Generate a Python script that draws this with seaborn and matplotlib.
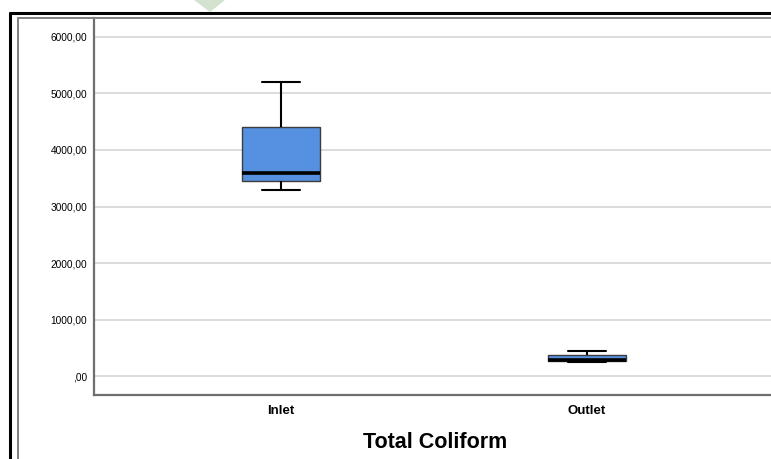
import numpy as np
import pandas as pd
import seaborn as sns
import matplotlib
matplotlib.use("Agg")
import matplotlib.pyplot as plt
from matplotlib.lines import Line2D
from matplotlib.patches import Polygon

# ---- data (five-number summaries) ----
categories = ["Inlet", "Outlet"]
inlet_values = [3300, 3450, 3600, 4400, 5200]
outlet_values = [245, 265, 285, 372, 450]
y_ticks = [0, 1000, 2000, 3000, 4000, 5000, 6000]
y_tick_labels = [",00", "1000,00", "2000,00", "3000,00", "4000,00", "5000,00", "6000,00"]
title_text = "Total Coliform"

df = pd.DataFrame({
    "site": [categories[0]] * len(inlet_values) + [categories[1]] * len(outlet_values),
    "value": inlet_values + outlet_values,
})

sns.set_theme(style="white")
plt.rcParams["font.family"] = ["Liberation Sans", "DejaVu Sans"]

W, H = 771, 459
fig = plt.figure(figsize=(W / 100, H / 100), dpi=100)

def fx(x):
    return x / W

def fy(y):
    return 1 - y / H

ax_left, ax_right, ax_top, ax_bottom = 94, 771, 18, 395
ax = fig.add_axes([fx(ax_left), fy(ax_bottom), (ax_right - ax_left) / W, (ax_bottom - ax_top) / H])

sns.boxplot(
    data=df, x="site", y="value", ax=ax, order=categories,
    width=0.252, color="#5591E0", saturation=1, whis=1.5,
    boxprops=dict(edgecolor="#3c3c3c", linewidth=1.0),
    medianprops=dict(color="black", linewidth=2.6),
    whiskerprops=dict(color="black", linewidth=1.5),
    capprops=dict(color="black", linewidth=1.5),
)

ax.set_xlim(-0.611, 1.601)
ax.set_ylim(-336, 6336)
ax.set_yticks(y_ticks)
ax.set_yticklabels(y_tick_labels, fontsize=7.3, color="black")
ax.set_xticks([0, 1])
ax.set_xticklabels(categories, fontsize=9.5, fontweight="bold", color="black")
ax.tick_params(axis="both", length=0)
ax.tick_params(axis="y", pad=5)
ax.tick_params(axis="x", pad=7)
ax.set_xlabel("")
ax.set_ylabel("")
ax.yaxis.grid(True, color="#D9D9D9", linewidth=1.3)
ax.xaxis.grid(False)
ax.set_axisbelow(True)
for s in ["top", "right"]:
    ax.spines[s].set_visible(False)
for s in ["left", "bottom"]:
    ax.spines[s].set_color("#6e6e6e")
    ax.spines[s].set_linewidth(1.6)

# outer frames
fig.add_artist(Line2D([fx(10), fx(10)], [fy(13), fy(H + 5)], color="black", lw=2.2, transform=fig.transFigure))
fig.add_artist(Line2D([fx(10), fx(W + 5)], [fy(13), fy(13)], color="black", lw=2.2, transform=fig.transFigure))
fig.add_artist(Line2D([fx(18), fx(18)], [fy(18), fy(H + 5)], color="#808080", lw=1.4, transform=fig.transFigure))
fig.add_artist(Line2D([fx(18), fx(W + 5)], [fy(18), fy(18)], color="#808080", lw=1.4, transform=fig.transFigure))

# small green marker at top
fig.add_artist(Polygon([[fx(194), fy(0)], [fx(225), fy(0)], [fx(210), fy(12)]],
                       closed=True, facecolor="#D3E3CF", edgecolor="none", transform=fig.transFigure))

fig.text(fx(435), fy(442), title_text, ha="center", va="center", fontsize=15.5, fontweight="bold", color="black")

fig.savefig("out.png", dpi=100)
